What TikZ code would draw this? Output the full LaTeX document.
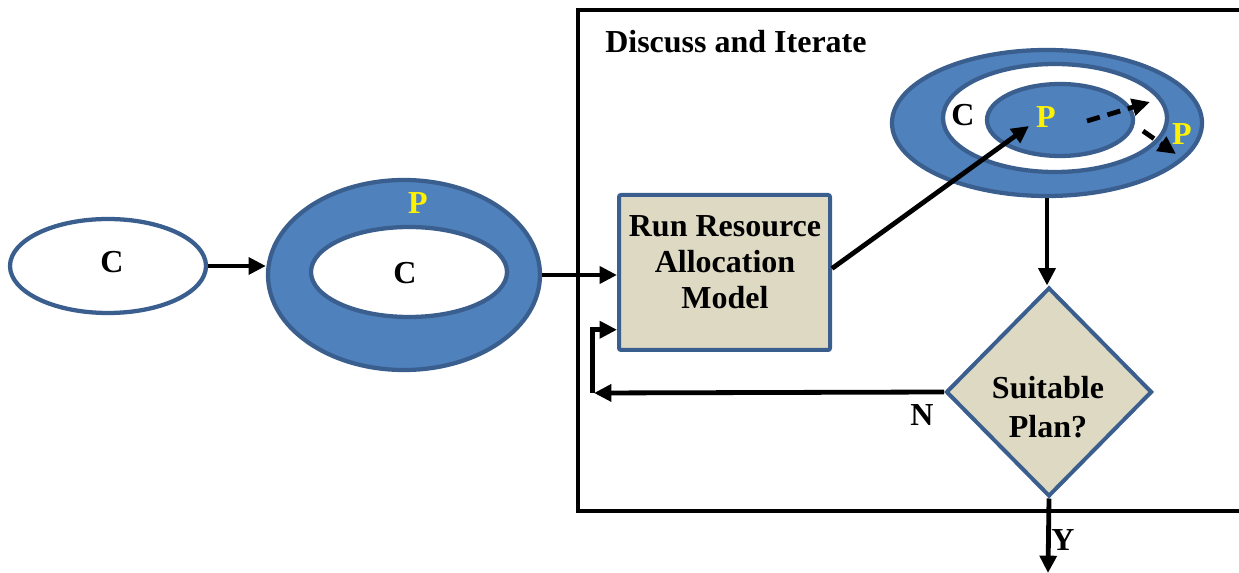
\documentclass[tikz,border=0pt]{standalone}
\usepackage{fontspec}
\setmainfont{Liberation Serif}
\usetikzlibrary{shapes.geometric,arrows.meta,calc}
\definecolor{accblue}{HTML}{4F81BD}
\definecolor{edgeblue}{HTML}{3A5F8E}
\definecolor{stepfill}{HTML}{DDD9C3}
\begin{document}
\begin{tikzpicture}[x=0.75pt,y=-0.75pt,
  ring/.style={ellipse, draw=edgeblue, line width=3.2pt, inner sep=0pt},
  bluering/.style={ring, fill=accblue},
  whitering/.style={ring, fill=white},
  lbl/.style={font=\bfseries\fontsize{24}{27}\selectfont, inner sep=0pt},
  ylbl/.style={lbl, text=yellow},
  arr/.style={line width=3.6pt, -{Triangle[length=13pt,width=12.5pt]}},
  darr/.style={line width=3.6pt, dash pattern=on 10pt off 6pt, -{Triangle[length=13.5pt,width=12.5pt]}},
  procbox/.style={rectangle, draw=edgeblue, fill=stepfill, line width=3pt, rounded corners=1.5pt, inner sep=0pt},
  decision/.style={diamond, draw=edgeblue, fill=stepfill, line width=3pt, inner sep=0pt},
  frame/.style={line width=2.4pt}]
\useasboundingbox (0,0) rectangle (1239,573);

% outer frame of the iteration loop (right side runs off the page)
\draw[frame] (1245,10) -- (578,10) -- (578,511) -- (1245,511);
\node[lbl, anchor=base west] (title) at (605,53) {Discuss and Iterate};

% single ellipse
\node[whitering, minimum width=147pt, minimum height=70.5pt] (e1) at (108,266) {};
\node[lbl] (c1) at (112,262) {C};

% ring of P around C
\node[bluering, minimum width=204pt, minimum height=142.5pt] (torus) at (404,275) {};
\node[whitering, minimum width=147pt, minimum height=67.5pt] (torusin) at (409,272) {};
\node[lbl] (c2) at (405,273) {C};
\node[ylbl] (p2) at (418,203) {P};

% process box
\node[procbox, minimum width=158.25pt, minimum height=116.25pt] (box) at (724.5,272.5) {};
\node[lbl, align=center] (boxtxt) at (725,262) {Run Resource\\Allocation\\Model};

% nested ellipses
\node[bluering, minimum width=232.5pt, minimum height=109.5pt] (tgt) at (1047,123) {};
\node[whitering, minimum width=168pt, minimum height=81pt] (tgtmid) at (1055,118) {};
\node[bluering, minimum width=109.5pt, minimum height=54pt] (tgtin) at (1060,120) {};
\node[lbl] (c3) at (963,115) {C};
\node[ylbl] (p3) at (1046,117) {P};
\node[ylbl] (p4) at (1182,134) {P};

% decision diamond
\node[decision, minimum width=154.5pt, minimum height=156.75pt] (dia) at (1049,392) {};
\node[lbl, align=center, font=\bfseries\fontsize{24}{29}\selectfont] (diatxt) at (1048,407) {Suitable\\Plan?};
\node[lbl] (nlbl) at (922,415) {N};
\node[lbl] (ylab) at (1063,540) {Y};

% free ends of connectors
\coordinate (pin) at (1029,126);
\coordinate (d1s) at (1087,121);
\coordinate (d1e) at (1150,102);
\coordinate (d2s) at (1143,131);
\coordinate (d2e) at (1176,154);
\coordinate (nend) at (594,393);
\coordinate (yend) at (1048,573);

% connectors
\draw[arr] (e1.east) -- (e1.east -| torus.west);
\draw[arr] (torus.east) -- (torus.east -| box.west);
\draw[arr] ([yshift=3pt]box.east) -- (pin);
\draw[darr] (d1s) -- (d1e);
\draw[darr] (d2s) -- (d2e);
\draw[arr] (tgt.south) -- (tgt.south |- dia.north);
\draw[arr] (dia.west) -- (nend);
\draw[arr] ([xshift=-1pt]nend) |- ($(box.south west)!0.14!(box.north west)$);
\draw[arr] (dia.south) -- (yend);
\end{tikzpicture}
\end{document}
